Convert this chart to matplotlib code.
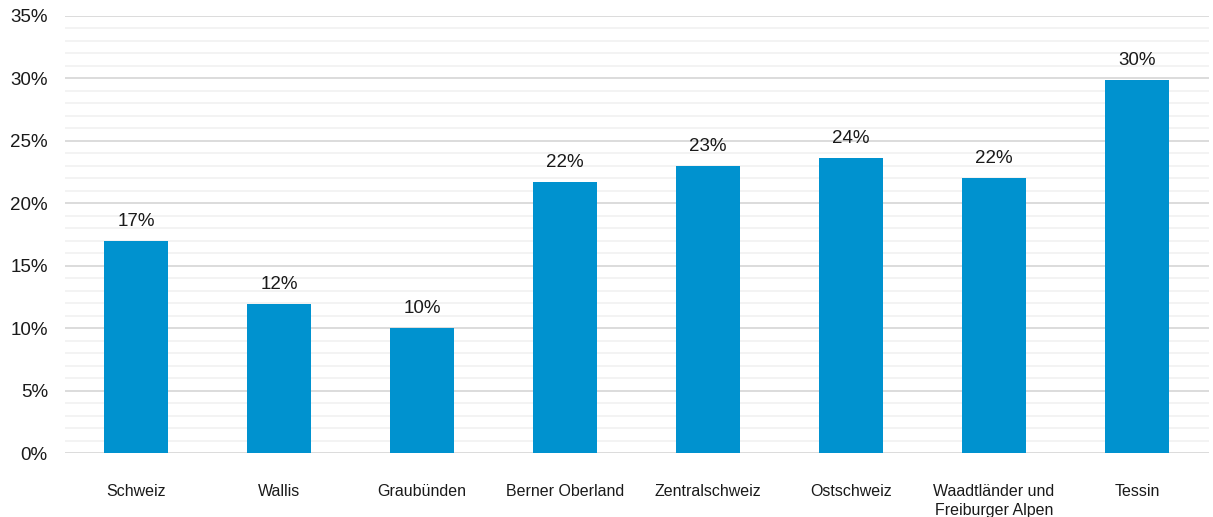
import numpy as np
import matplotlib.pyplot as plt
from matplotlib.ticker import MultipleLocator

regions = ['Schweiz', 'Wallis', 'Graubünden', 'Berner Oberland', 'Zentralschweiz',
           'Ostschweiz', 'Waadtländer und\nFreiburger Alpen', 'Tessin']
shares = [17.0, 11.9, 10.0, 21.7, 23.0, 23.6, 22.0, 29.9]
yticks = [0, 5, 10, 15, 20, 25, 30, 35]

plt.rcParams['font.family'] = ['Liberation Sans', 'DejaVu Sans']

fig = plt.figure(figsize=(12.13, 5.17), dpi=100)
ax = fig.add_axes([64.5 / 1213, (517 - 453) / 517, 1144 / 1213, 437 / 517])

x = np.arange(len(regions))
bars = ax.bar(x, shares, width=0.45, color='#0092CF', zorder=3)

for b, v in zip(bars, shares):
    ax.annotate(f'{v:.0f}%', (b.get_x() + b.get_width() / 2, v),
                xytext=(0, 8), textcoords='offset points',
                ha='center', va='bottom', fontsize=13.5, color='#1a1a1a')

ax.set_xlim(-0.5, len(regions) - 0.5)
ax.set_ylim(0, 35)
ax.set_yticks(yticks)
ax.set_yticklabels([f'{t}%' for t in yticks])
ax.yaxis.set_minor_locator(MultipleLocator(1))
ax.grid(axis='y', which='major', color='#D9D9D9', linewidth=1.3, zorder=0)
ax.grid(axis='y', which='minor', color='#F2F2F2', linewidth=1.3, zorder=0)

ax.set_xticks(x)
ax.set_xticklabels(regions, fontsize=11.5, color='#1a1a1a', linespacing=1.35)
ax.tick_params(axis='x', length=0, pad=22)
ax.tick_params(axis='y', which='both', length=0, pad=12, labelsize=13.5, labelcolor='#1a1a1a')

for s in ax.spines.values():
    s.set_visible(False)

fig.savefig('out.png', dpi=100)
